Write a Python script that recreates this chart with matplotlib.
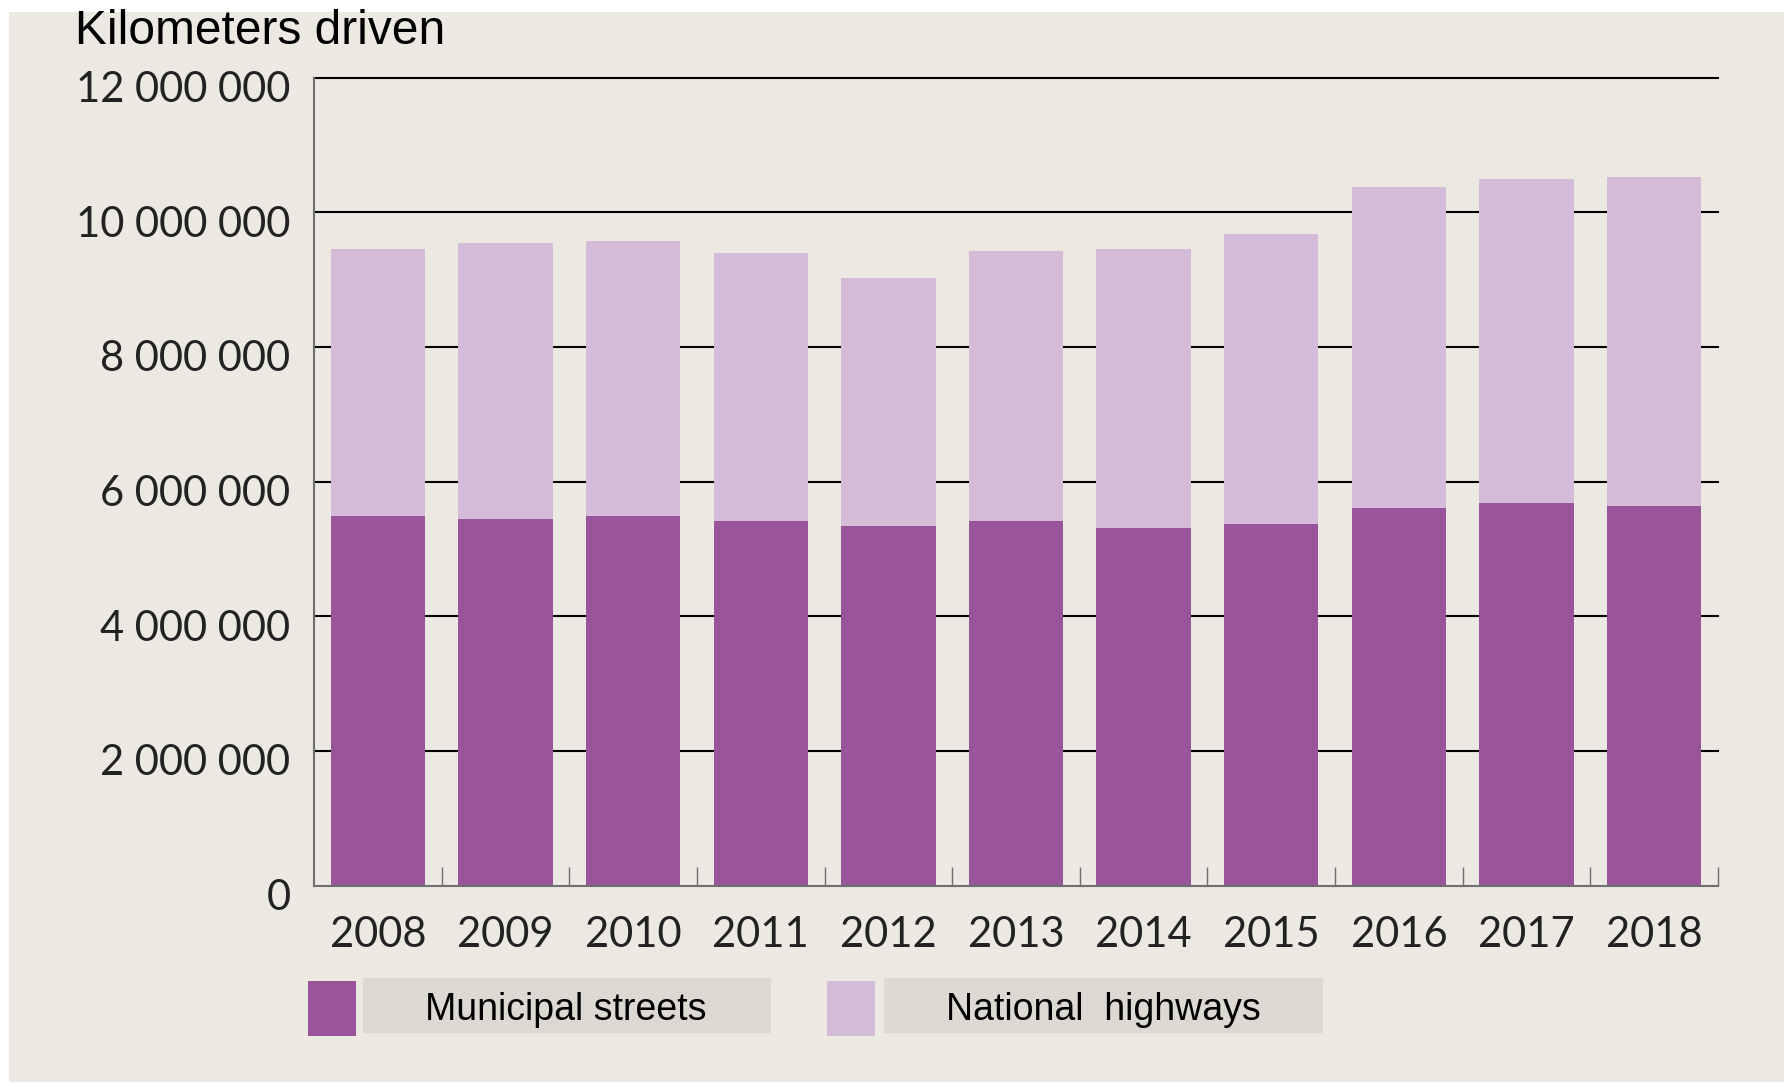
import matplotlib.pyplot as plt
import matplotlib.transforms as mtransforms
from matplotlib.patches import Rectangle
from matplotlib import font_manager
import numpy as np

years = ['2008', '2009', '2010', '2011', '2012', '2013', '2014', '2015', '2016', '2017', '2018']
municipal = [5490000, 5440000, 5490000, 5410000, 5340000, 5410000, 5310000, 5370000, 5610000, 5680000, 5640000]
total = [9460000, 9540000, 9580000, 9390000, 9030000, 9420000, 9460000, 9680000, 10370000, 10490000, 10530000]
national = [t - m for t, m in zip(total, municipal)]
yticks = [0, 2000000, 4000000, 6000000, 8000000, 10000000, 12000000]
ylabels = ['0', '2 000 000', '4 000 000', '6 000 000', '8 000 000', '10 000 000', '12 000 000']

dark = '#9a5499'
light = '#d4bcd8'
panel = '#ece9e2'
boxgray = '#dcd9d2'

names = {f.name for f in font_manager.fontManager.ttflist}
narrow = 'Liberation Sans Narrow' if 'Liberation Sans Narrow' in names else 'Liberation Sans'
tickfont = 'Lato' if 'Lato' in names else 'DejaVu Sans'

W, H = 1789, 1084
fig = plt.figure(figsize=(W / 100, H / 100), dpi=100, facecolor='white')
fig.patches.append(Rectangle((9 / W, 2 / H), (1784 - 9) / W, (1072 - 2) / H,
                             transform=fig.transFigure, facecolor=panel, edgecolor='none', zorder=-5))

ax = fig.add_axes([314 / W, (H - 885.5) / H, (1718 - 314) / W, (885.5 - 77.6) / H])
ax.set_facecolor('none')
ax.set_zorder(2)
x = np.arange(len(years))
ax.bar(x, municipal, width=0.74, color=dark, zorder=2)
ax.bar(x, national, bottom=municipal, width=0.74, color=light, zorder=2)

for v in yticks[1:]:
    ax.axhline(v, color='black', lw=1.5, zorder=1, clip_on=False)

ax.set_xlim(-0.5, len(years) - 0.5)
ax.set_ylim(0, 12000000)
for s in ['top', 'right']:
    ax.spines[s].set_visible(False)
for s in ['left', 'bottom']:
    ax.spines[s].set_color('#6e6e6e')
    ax.spines[s].set_linewidth(1.5)

ax.set_yticks(yticks)
ax.set_yticklabels(ylabels, fontsize=30, family=tickfont, color='#222222')
ax.tick_params(axis='y', length=0, pad=17)
off = mtransforms.ScaledTranslation(0, -9 / 100, fig.dpi_scale_trans)
for lab in ax.get_yticklabels():
    lab.set_transform(lab.get_transform() + off)

ax.set_xticks(x)
ax.set_xticklabels(years, fontsize=30, family=tickfont, color='#222222')
ax.tick_params(axis='x', length=0, pad=22)
ax.set_xticks(np.arange(0.5, len(years), 1), minor=True)
ax.tick_params(axis='x', which='minor', direction='in', length=14, width=1, color='#6e6e6e')

fig.text(75 / W, 1 - 31 / H, 'Kilometers driven', fontsize=34.5, family='Liberation Sans',
         va='center', ha='left')

# legend boxes
def legend_item(sq_x, box_x0, box_x1, color, label, tx):
    fig.patches.append(Rectangle((sq_x / W, (H - 1036) / H), 48 / W, 55 / H,
                                 transform=fig.transFigure, facecolor=color, edgecolor='none'))
    fig.patches.append(Rectangle((box_x0 / W, (H - 1033) / H), (box_x1 - box_x0) / W, 55 / H,
                                 transform=fig.transFigure, facecolor=boxgray, edgecolor='none'))
    fig.text(tx / W, 1 - 1010.5 / H, label, fontsize=27, family=narrow, ha='center', va='center')

legend_item(308, 363, 771, dark, 'Municipal streets', 566)
legend_item(827, 884, 1323, light, 'National  highways', 1103)

fig.savefig('out.png', dpi=100, facecolor='white')
